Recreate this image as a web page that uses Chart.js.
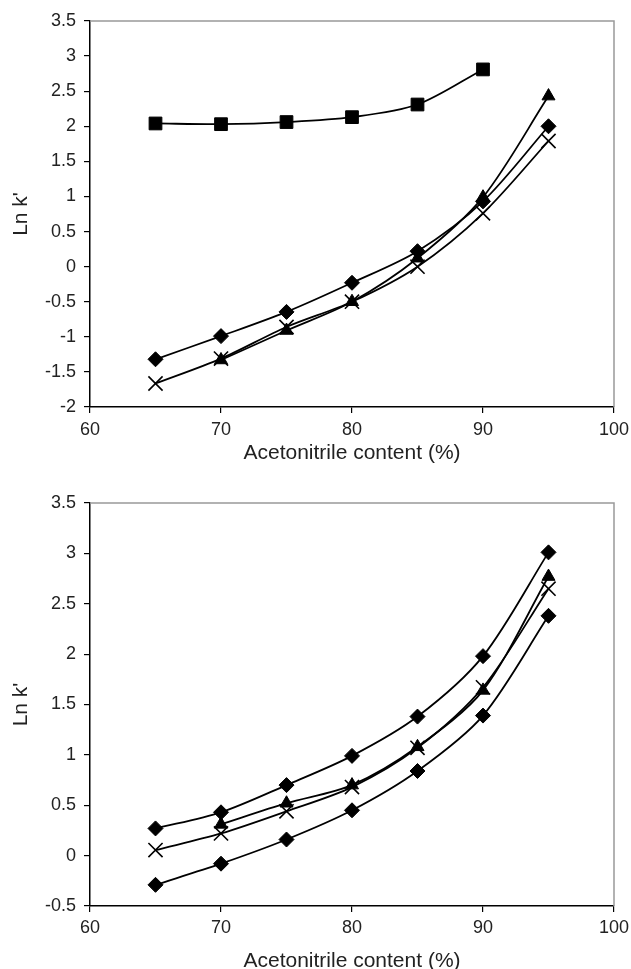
<!DOCTYPE html>
<html>
<head>
<meta charset="utf-8">
<script src="https://cdn.jsdelivr.net/npm/chart.js@4.4.0/dist/chart.umd.min.js"></script>
<style>
  html, body { margin: 0; padding: 0; background: #fff; overflow: hidden; }
  #top { position: absolute; left: 0; top: 0; }
  #bottom { position: absolute; left: 0; top: 480px; }
</style>
</head>
<body>
<canvas id="top" width="631" height="480"></canvas>
<canvas id="bottom" width="631" height="500"></canvas>
<script>
// acetonitrile content (%)
const acetonitrile = [65, 70, 75, 80, 85, 90, 95];

// upper panel, Ln k'
const topSquares   = [2.04, 2.03, 2.06, 2.13, 2.31, 2.81];          // 65..90
const topDiamonds  = [-1.32, -0.99, -0.645, -0.23, 0.22, 0.93, 2.0];
const topTriangles = [-1.33, -0.91, -0.50, 0.12, 0.99, 2.43];        // 70..95
const topCrosses   = [-1.665, -1.31, -0.86, -0.50, 0.0, 0.76, 1.79];

// lower panel, Ln k'
const botDiamondsHigh = [0.27, 0.43, 0.70, 0.99, 1.38, 1.98, 3.01];
const botTriangles    = [0.31, 0.52, 0.70, 1.08, 1.64, 2.77];        // 70..95
const botCrosses      = [0.055, 0.22, 0.44, 0.68, 1.07, 1.67, 2.65];
const botDiamondsLow  = [-0.29, -0.08, 0.16, 0.45, 0.84, 1.39, 2.38];

const xTicks = [60, 70, 80, 90, 100];

function pts(xs, ys) {
    return ys.map((y, i) => ({ x: xs[i], y: y }))
}

function series(xs, ys, style, radius) {
    return {
        data: pts(xs, ys),
        showLine: true,
        tension: 0.3,
        borderColor: '#000',
        borderWidth: 1.8,
        backgroundColor: '#000',
        pointStyle: style,
        pointRadius: radius,
        pointBorderWidth: style === 'crossRot' ? 1.6 : 1,
        pointBorderColor: '#000',
        pointBackgroundColor: '#000'
    }
}

// grey top + right edge of the plot box
const frame = {
    id: 'frame',
    afterDraw(chart) {
        const a = chart.chartArea
        const ctx = chart.ctx
        ctx.save()
        ctx.strokeStyle = '#999'
        ctx.lineWidth = 1.5
        ctx.beginPath()
        ctx.moveTo(a.left, a.top)
        ctx.lineTo(a.right, a.top)
        ctx.lineTo(a.right, a.bottom)
        ctx.stroke()
        ctx.restore()
    }
}

const font = "'Liberation Sans', Arial, sans-serif"

function options(yMin, yMax, topPad, xHeight, labelPad, titlePad) {
    return {
        responsive: false,
        animation: false,
        layout: { padding: { left: 0, right: 17, top: topPad, bottom: 0 } },
        plugins: { legend: { display: false }, tooltip: { enabled: false } },
        scales: {
            x: {
                type: 'linear',
                min: 60, max: 100,
                afterBuildTicks: s => { s.ticks = xTicks.map(v => ({ value: v })) },
                border: { color: '#000', width: 1.5 },
                grid: { drawOnChartArea: false, drawTicks: true, tickLength: 6, color: '#000', lineWidth: 1.2 },
                ticks: { color: '#222', padding: labelPad, font: { family: font, size: 18 } },
                title: {
                    display: true, text: 'Acetonitrile content (%)', color: '#222',
                    font: { family: font, size: 21 }, padding: { top: 0, bottom: titlePad }
                },
                afterFit: s => { s.height = xHeight; s.paddingLeft = 0; s.paddingRight = 0 }
            },
            y: {
                min: yMin, max: yMax,
                ticks: {
                    stepSize: 0.5, color: '#222', padding: 8,
                    font: { family: font, size: 18 },
                    callback: v => String(Number(v.toFixed(1)))
                },
                border: { color: '#000', width: 1.5 },
                grid: { drawOnChartArea: false, drawTicks: true, tickLength: 6, color: '#000', lineWidth: 1.2 },
                title: {
                    display: true, text: "Ln k'", color: '#222',
                    font: { family: font, size: 21 }, padding: { top: 9, bottom: 0 }
                },
                afterFit: s => { s.width = 90; s.paddingTop = 0; s.paddingBottom = 0 }
            }
        }
    }
}

new Chart(document.getElementById('top'), {
    type: 'scatter',
    data: {
        datasets: [
            series(acetonitrile.slice(0, 6), topSquares, 'rect', 9),
            series(acetonitrile, topDiamonds, 'rectRot', 7.5),
            series(acetonitrile.slice(1), topTriangles, 'triangle', 7.5),
            series(acetonitrile, topCrosses, 'crossRot', 10)
        ]
    },
    options: options(-2, 3.5, 21, 73, 6, 14),
    plugins: [frame]
});

new Chart(document.getElementById('bottom'), {
    type: 'scatter',
    data: {
        datasets: [
            series(acetonitrile, botDiamondsHigh, 'rectRot', 7.5),
            series(acetonitrile.slice(1), botTriangles, 'triangle', 7.5),
            series(acetonitrile, botCrosses, 'crossRot', 10),
            series(acetonitrile, botDiamondsLow, 'rectRot', 7.5)
        ]
    },
    options: options(-0.5, 3.5, 23, 74, 5, 6),
    plugins: [frame]
});
</script>
</body>
</html>
